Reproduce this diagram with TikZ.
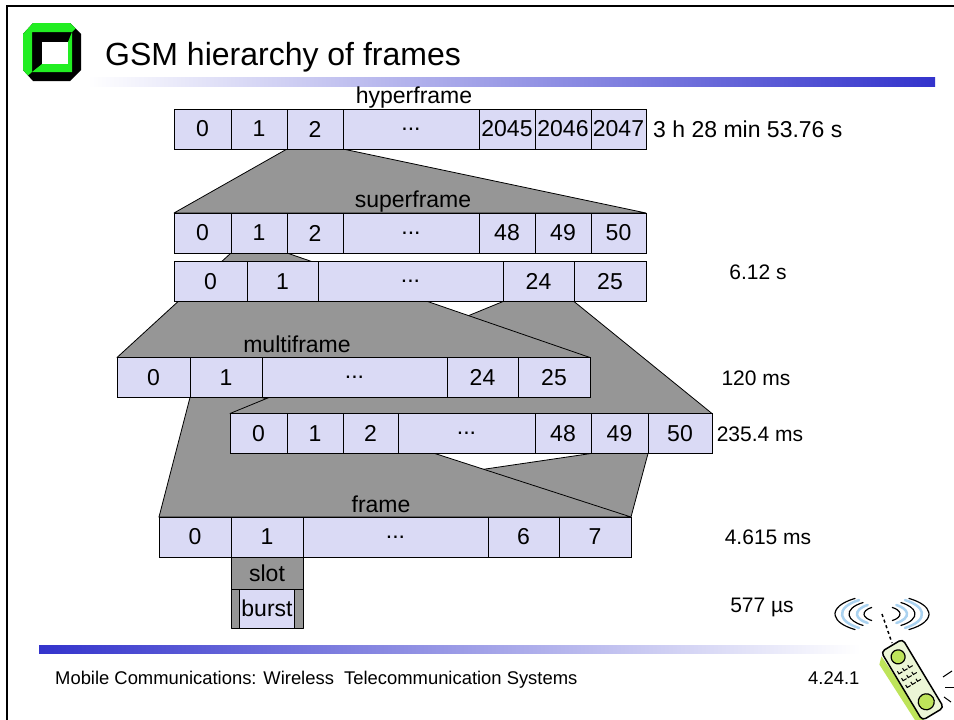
\documentclass[tikz,border=0pt]{standalone}
\usepackage{fontspec}
\setmainfont{Liberation Sans}
\usepackage{tikz}
\usetikzlibrary{positioning}
\usetikzlibrary{backgrounds}
\usepackage{xcolor}

\definecolor{cellfill}{RGB}{218,218,245}
\definecolor{fangray}{RGB}{150,150,150}
\definecolor{barblue}{RGB}{51,51,204}
\definecolor{logogreen}{RGB}{34,238,34}
\definecolor{phonepale}{RGB}{236,246,214}
\definecolor{phonelime}{RGB}{190,228,90}
\definecolor{waveblue}{RGB}{170,210,240}

\newcommand{\cellfont}{\fontsize{23}{26}\selectfont}
\newcommand{\timefont}{\fontsize{21}{24}\selectfont}
\newcommand{\skipped}{...}

\begin{document}
\begin{tikzpicture}[x=1pt, y=-1pt,
        cell/.style={draw, fill=cellfill, line width=0.8pt, minimum height=40pt,
            inner sep=0pt, outer sep=0pt, font=\cellfont},
        fanout/.style={draw, fill=fangray, line width=0.8pt, line join=round},
        txt/.style={inner sep=0pt, font=\cellfont}]
    \useasboundingbox (0,0) rectangle (954,720);

    % slide frame, title and bars
    \draw[line width=2pt] (7,720) -- (7,6) -- (954,6);
    \fill[black] (33,23) -- (70,23) -- (81,34) -- (81,70) -- (70,81) -- (33,81) -- (23,70) -- (23,34) -- cycle;
    \fill[logogreen] (28,75.5) -- (23,70) -- (23,34) -- (33,23) -- (70,23) -- (75.5,28.5) -- (72,32) -- (32,32) -- (32,72) -- cycle;
    \fill[logogreen] (72,32) -- (72,72) -- (32,72) -- (42,64) -- (68,64) -- (68,42) -- cycle;
    \fill[white] (42,42) rectangle (68,64);
    \node[anchor=base west, inner sep=0pt, font=\fontsize{32}{36}\selectfont] (title) at (105,65) {GSM hierarchy of frames};
    \shade[left color=white, right color=barblue] (87,77) rectangle (935,86);
    \shade[left color=barblue, right color=white] (39,645) rectangle (860,653);
    \node[anchor=base west, inner sep=0pt, font=\fontsize{18.4}{20}\selectfont] (footer) at (55,684) {Mobile Communications: Wireless\ \ Telecommunication Systems};
    \node[anchor=base west, inner sep=0pt, font=\fontsize{18.4}{20}\selectfont] (slideno) at (808,684) {4.24.1};

    % hyperframe
    \foreach \nm/\xa/\xb/\lab in {h0/174/231/0, h1/231/287/1, h2/287/343/2, h3/343/479/\skipped, h4/479/535/2045, h5/535/591/2046, h6/591/646/2047}
    {
        \pgfmathsetmacro{\w}{\xb-\xa}
        \node[cell, minimum width=\w pt] (\nm) at ({(\xa+\xb)/2}, 129) {\lab};
    }
    % superframe, 51 multiframes
    \foreach \nm/\xa/\xb/\lab in {sa0/174/231/0, sa1/231/287/1, sa2/287/343/2, sa3/343/479/\skipped, sa4/479/535/48, sa5/535/591/49, sa6/591/646/50}
    {
        \pgfmathsetmacro{\w}{\xb-\xa}
        \node[cell, minimum width=\w pt] (\nm) at ({(\xa+\xb)/2}, 233) {\lab};
    }
    % superframe, 26 multiframes
    \foreach \nm/\xa/\xb/\lab in {sb0/174/247/0, sb1/247/318/1, sb2/318/503/\skipped, sb3/503/574/24, sb4/574/646/25}
    {
        \pgfmathsetmacro{\w}{\xb-\xa}
        \node[cell, minimum width=\w pt] (\nm) at ({(\xa+\xb)/2}, 281.5) {\lab};
    }
    % multiframe of 26
    \foreach \nm/\xa/\xb/\lab in {m0/117/190/0, m1/190/262/1, m2/262/447/\skipped, m3/447/518/24, m4/518/590/25}
    {
        \pgfmathsetmacro{\w}{\xb-\xa}
        \node[cell, minimum width=\w pt] (\nm) at ({(\xa+\xb)/2}, 377.5) {\lab};
    }
    % multiframe of 51
    \foreach \nm/\xa/\xb/\lab in {n0/230/287/0, n1/287/343/1, n2/343/398/2, n3/398/535/\skipped, n4/535/591/48, n5/591/648/49, n6/648/712/50}
    {
        \pgfmathsetmacro{\w}{\xb-\xa}
        \node[cell, minimum width=\w pt] (\nm) at ({(\xa+\xb)/2}, 433.5) {\lab};
    }
    % TDMA frame
    \foreach \nm/\xa/\xb/\lab in {f0/159/231/0, f1/231/303/1, f2/303/488/\skipped, f3/488/559/6, f4/559/631/7}
    {
        \pgfmathsetmacro{\w}{\xb-\xa}
        \node[cell, minimum width=\w pt] (\nm) at ({(\xa+\xb)/2}, 537) {\lab};
    }
    % slot and burst
    \node[fanout, minimum width=72pt, minimum height=32pt, inner sep=0pt, outer sep=0pt, font=\cellfont, anchor=north] (slot) at (f1.south) {slot};
    \node[fanout, minimum width=72pt, minimum height=39pt, outer sep=0pt, anchor=north] (slotbox) at (slot.south) {};
    \node[cell, minimum width=55pt, minimum height=39pt] (burst) at (slotbox.center) {burst};

    % zoom-out wedges behind the rows
    \begin{pgfonlayer}{background}
        \fill[white] (0,0) rectangle (954,720);
        \filldraw[fanout] (n5.south west) -- (n5.south east) -- (f4.north east) -- (f0.north west) -- cycle;
        \filldraw[fanout] (m1.south west) -- (m1.south east) -- (f4.north east) -- (f0.north west) -- cycle;
        \filldraw[fanout] (sb3.south west) -- (sb3.south east) -- (n6.north east) -- (n0.north west) -- cycle;
        \filldraw[fanout] (sa1.south west) -- (sa1.south east) -- (m4.north east) -- (m0.north west) -- cycle;
        \filldraw[fanout] (h2.south west) -- (h2.south east) -- (sa6.north east) -- (sa0.north west) -- cycle;
    \end{pgfonlayer}

    % level names
    \node[txt, anchor=base] (hyperlbl) at (414,103) {hyperframe};
    \node[txt, anchor=base] (superlbl) at (413,207) {superframe};
    \node[txt, anchor=base] (multilbl) at (297,352) {multiframe};
    \node[txt, anchor=base] (framelbl) at (381,512) {frame};

    % durations
    \node[txt, anchor=west] (thyper) at (653,129) {3 h 28 min 53.76 s};
    \foreach \nm/\xc/\yc/\lab in {tsuper/758/272/6.12 s, tmulti/756/378/120 ms, tmultib/760/434/235.4 ms, tframe/768/537/4.615 ms, tslot/762/607/577 µs}
        \node[txt, font=\timefont] (\nm) at (\xc,\yc) {\lab};

    % handset in the corner
    \foreach \rx/\ry/\c/\lw in {18/8/black/1.2, 25/11/waveblue/2.5, 33/14/black/1.2, 40/17/waveblue/2.5, 47/19/black/1.2}
    {
        \draw[\c, line width=\lw pt, line cap=round] ([shift={(125:\rx pt and \ry pt)}]882,614) arc[start angle=125, end angle=235, x radius=\rx pt, y radius=\ry pt];
        \draw[\c, line width=\lw pt, line cap=round] ([shift={(-55:\rx pt and \ry pt)}]882,614) arc[start angle=-55, end angle=55, x radius=\rx pt, y radius=\ry pt];
    }
    \draw[dashed, line width=1.5pt] (882,614) -- (892,643);
    \begin{scope}[shift={(912,680)}, rotate=31]
        \fill[phonelime] (-14,-36) -- (-20,-30) -- (-18,40) -- (-10,42) -- cycle;
        \draw[line width=1.5pt, fill=phonepale, rounded corners=4pt] (-12,-40) rectangle (13,40);
        \draw[line width=1.2pt, fill=phonelime] (0,-27) circle (7pt);
        \draw[line width=1.2pt, fill=phonelime] (1,26) circle (8pt);
        \foreach \r in {-13,-5,3}
            \foreach \c in {-6,0,6}
                \draw[line width=1pt] (\c-2,\r-2) -- (\c-2,\r+1) -- (\c+2,\r+1);
    \end{scope}
    \draw[line width=1pt] (943,677) -- (952,671);
    \draw[line width=1pt] (945,687) -- (954,687);
    \draw[line width=1pt] (944,697) -- (951,702);
\end{tikzpicture}
\end{document}
